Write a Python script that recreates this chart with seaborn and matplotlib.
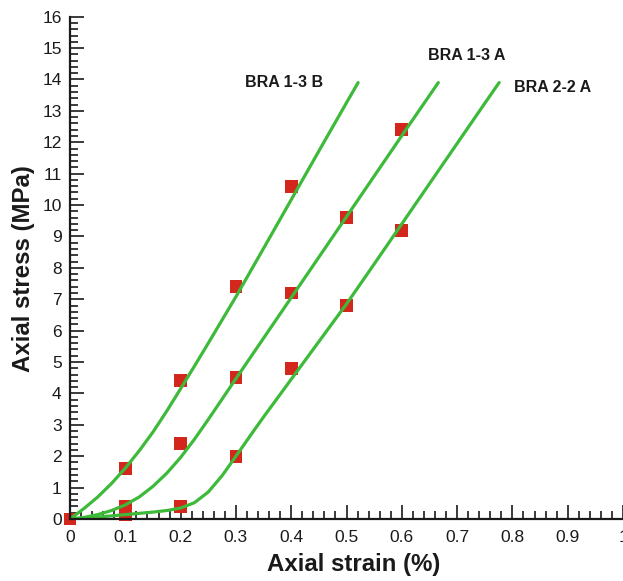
import numpy as np
import pandas as pd
import matplotlib
matplotlib.use("Agg")
import matplotlib.pyplot as plt
from matplotlib.ticker import MultipleLocator
import seaborn as sns

# ---- data ----
series_names = ["BRA 1-3 B", "BRA 1-3 A", "BRA 2-2 A"]

# measured points (red squares)
b_pts_x = [0.0, 0.1, 0.2, 0.3, 0.4]
b_pts_y = [0.0, 1.6, 4.4, 7.4, 10.6]
a_pts_x = [0.1, 0.2, 0.3, 0.4, 0.5, 0.6]
a_pts_y = [0.4, 2.4, 4.5, 7.2, 9.6, 12.4]
c_pts_x = [0.1, 0.2, 0.3, 0.4, 0.5, 0.6]
c_pts_y = [0.15, 0.4, 2.0, 4.8, 6.8, 9.2]

# fitted curves (green lines)
b_curve_x = [0.0, 0.025, 0.05, 0.075, 0.1, 0.125, 0.15, 0.175, 0.2, 0.225, 0.25, 0.275,
             0.3, 0.35, 0.4, 0.45, 0.5, 0.521]
b_curve_y = [0.0, 0.33, 0.7, 1.13, 1.62, 2.17, 2.77, 3.44, 4.15, 4.87, 5.6, 6.34,
             7.08, 8.62, 10.17, 11.72, 13.26, 13.9]
a_curve_x = [0.0, 0.025, 0.05, 0.075, 0.1, 0.125, 0.15, 0.175, 0.2, 0.225, 0.25, 0.275,
             0.3, 0.35, 0.4, 0.45, 0.5, 0.55, 0.6, 0.666]
a_curve_y = [0.0, 0.05, 0.14, 0.27, 0.45, 0.7, 1.04, 1.46, 1.96, 2.54, 3.17, 3.82,
             4.47, 5.76, 7.05, 8.34, 9.63, 10.92, 12.21, 13.9]
c_curve_x = [0.0, 0.05, 0.1, 0.15, 0.175, 0.2, 0.225, 0.25, 0.275, 0.3, 0.325, 0.35,
             0.4, 0.45, 0.5, 0.55, 0.6, 0.65, 0.7, 0.75, 0.776]
c_curve_y = [0.0, 0.06, 0.14, 0.22, 0.27, 0.35, 0.52, 0.86, 1.38, 2.0, 2.63, 3.25,
             4.45, 5.65, 6.85, 8.12, 9.4, 10.68, 11.96, 13.24, 13.9]

x_ticks = [0, 0.1, 0.2, 0.3, 0.4, 0.5, 0.6, 0.7, 0.8, 0.9, 1]
x_tick_labels = ["0", "0.1", "0.2", "0.3", "0.4", "0.5", "0.6", "0.7", "0.8", "0.9", "1"]
y_ticks = list(range(0, 17))

# label anchor positions (data coords)
label_pos = {"BRA 1-3 B": (0.387, 13.9), "BRA 1-3 A": (0.718, 14.75), "BRA 2-2 A": (0.873, 13.75)}

# ---- build long tables ----
curves = pd.concat([
    pd.DataFrame({"strain": b_curve_x, "stress": b_curve_y, "sample": series_names[0]}),
    pd.DataFrame({"strain": a_curve_x, "stress": a_curve_y, "sample": series_names[1]}),
    pd.DataFrame({"strain": c_curve_x, "stress": c_curve_y, "sample": series_names[2]}),
], ignore_index=True)
points = pd.concat([
    pd.DataFrame({"strain": b_pts_x, "stress": b_pts_y, "sample": series_names[0]}),
    pd.DataFrame({"strain": a_pts_x, "stress": a_pts_y, "sample": series_names[1]}),
    pd.DataFrame({"strain": c_pts_x, "stress": c_pts_y, "sample": series_names[2]}),
], ignore_index=True)

sns.set_style("ticks")
plt.rcParams["font.family"] = ["Liberation Sans", "DejaVu Sans"]

ink = "#1a1a1a"
green = "#3dba3a"
red = "#d3261c"

fig = plt.figure(figsize=(6.23, 5.81), dpi=100)
ax = fig.add_axes([0.1124, 0.1067, 0.8876, 0.8646])

sns.scatterplot(data=points, x="strain", y="stress", marker="s", s=85,
                color=red, edgecolor="none", linewidth=0, clip_on=False,
                zorder=2, legend=False, ax=ax)
sns.lineplot(data=curves, x="strain", y="stress", units="sample", estimator=None,
             sort=False, color=green, linewidth=2.3, zorder=3, legend=False, ax=ax)
for ln in ax.lines:
    ln.set_solid_joinstyle("round")
    ln.set_solid_capstyle("round")

ax.set_xlim(0, 1)
ax.set_ylim(0, 16)
ax.set_xticks(x_ticks)
ax.set_xticklabels(x_tick_labels)
ax.set_yticks(y_ticks)
ax.xaxis.set_minor_locator(MultipleLocator(0.02))
ax.yaxis.set_minor_locator(MultipleLocator(0.2))

sns.despine(ax=ax)
for side in ["left", "bottom"]:
    ax.spines[side].set_linewidth(1.6)
    ax.spines[side].set_color(ink)
    ax.spines[side].set_zorder(4)

ax.tick_params(which="major", direction="in", length=10, width=1.2, color=ink,
               labelsize=12.5, labelcolor=ink)
ax.tick_params(which="minor", direction="in", length=6, width=1.2, color=ink)
ax.tick_params(axis="x", which="major", pad=8)
ax.tick_params(axis="y", which="major", pad=6)

ax.set_xlabel("Axial strain (%)", fontsize=17.3, fontweight="bold", color=ink)
ax.set_ylabel("Axial stress (MPa)", fontsize=17.3, fontweight="bold", color=ink)
ax.xaxis.set_label_coords(0.513, -0.068)
ax.yaxis.set_label_coords(-0.064, 0.498)

for name in series_names:
    x, y = label_pos[name]
    ax.text(x, y, name, fontsize=11.5, fontweight="bold", color=ink,
            ha="center", va="center")

fig.savefig("out.png", dpi=100)
